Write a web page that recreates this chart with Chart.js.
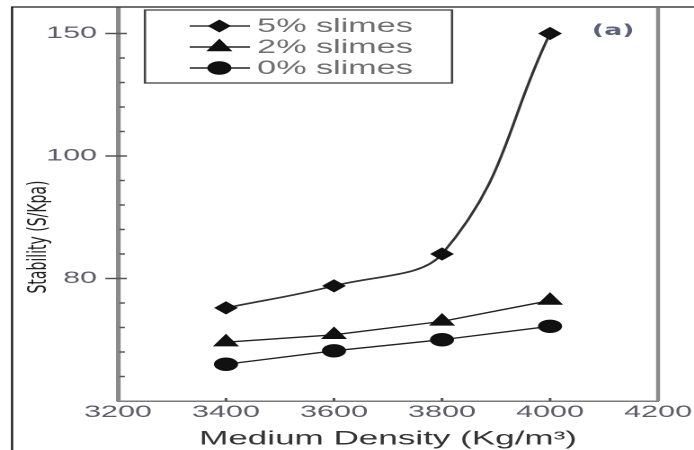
<!DOCTYPE html>
<html>
<head>
<meta charset="utf-8">
<script src="https://cdn.jsdelivr.net/npm/chart.js@4.4.1/dist/chart.umd.min.js"></script>
<style>
  html, body { margin: 0; padding: 0; background: #fff; overflow: hidden; }
  /* the source figure is stretched sideways, so the chart is drawn narrow and scaled */
  #wrap { width: 386px; height: 450px; transform: scaleX(1.798); transform-origin: 0 0; }
  canvas { display: block; }
</style>
</head>
<body>
<div id="wrap"><canvas id="chart" width="386" height="450"></canvas></div>
<script>
const densities = [3400, 3600, 3800, 4000]
const slimes5 = [38, 47, 60, 150]
const slimes2 = [24, 27, 32.5, 41]
const slimes0 = [15, 20.5, 25, 30.5]
const seriesLabels = ['5% slimes', '2% slimes', '0% slimes']
const xTicks = [3200, 3400, 3600, 3800, 4000, 4200]
const yTickValues = [50, 100, 150]
const yTickLabels = ['80', '100', '150']

const points = (values) => values.map((y, i) => ({ x: densities[i], y }))

function marker(ctx, style, x, y, r) {
  if (Chart.helpers && Chart.helpers.drawPoint) {
    Chart.helpers.drawPoint(ctx, { pointStyle: style, radius: r, rotation: 0, borderWidth: 1 }, x, y)
    return
  }
  ctx.beginPath()
  ctx.arc(x, y, r, 0, Math.PI * 2)
  ctx.fill()
}

const decorations = {
  id: 'decorations',
  beforeDraw(chart) {
    const ctx = chart.ctx
    ctx.save()
    ctx.strokeStyle = '#1a1a1a'
    ctx.lineWidth = 1.2
    ctx.beginPath()
    ctx.moveTo(6.7, 450)
    ctx.lineTo(6.7, 7)
    ctx.lineTo(386, 7)
    ctx.stroke()
    ctx.restore()
  },
  afterDraw(chart) {
    const ctx = chart.ctx
    const { chartArea } = chart
    const xs = chart.scales.x
    const ys = chart.scales.y
    ctx.save()

    // right edge of the plot
    ctx.strokeStyle = '#8a8a8a'
    ctx.lineWidth = 2.2
    ctx.beginPath()
    ctx.moveTo(chartArea.right, 8)
    ctx.lineTo(chartArea.right, chartArea.bottom)
    ctx.stroke()

    // y tick marks
    ctx.strokeStyle = '#555'
    ctx.lineWidth = 1.5
    ys.ticks.forEach((t) => {
      if (t.value <= 0 || t.value > 150) return
      const py = ys.getPixelForValue(t.value)
      const major = yTickValues.includes(t.value)
      ctx.beginPath()
      ctx.moveTo(major ? chartArea.left - 7 : chartArea.left + 0.8, py)
      ctx.lineTo(major ? chartArea.left + 5 : chartArea.left + 3.8, py)
      ctx.stroke()
    })
    // x tick marks
    xTicks.slice(1, -1).forEach((v) => {
      const px = xs.getPixelForValue(v)
      ctx.beginPath()
      ctx.moveTo(px, chartArea.bottom)
      ctx.lineTo(px, chartArea.bottom - 3)
      ctx.stroke()
    })

    // legend box
    ctx.strokeStyle = '#444'
    ctx.lineWidth = 1.3
    ctx.strokeRect(80.6, 10, 170.8, 73)
    const rows = [26, 47, 68]
    chart.data.datasets.forEach((ds, i) => {
      const y = rows[i]
      ctx.strokeStyle = ds.borderColor
      ctx.lineWidth = 1.4
      ctx.beginPath()
      ctx.moveTo(105.5, y)
      ctx.lineTo(139, y)
      ctx.stroke()
      ctx.fillStyle = ds.pointBackgroundColor
      ctx.strokeStyle = ds.pointBorderColor
      marker(ctx, ds.pointStyle, 122, y, ds.pointRadius)
      ctx.fillStyle = '#6e6e6e'
      ctx.font = '19px "Liberation Sans", Arial, sans-serif'
      ctx.textAlign = 'left'
      ctx.textBaseline = 'middle'
      ctx.fillText(ds.label, 143, y + 1)
    })

    // panel tag
    ctx.fillStyle = '#5a6278'
    ctx.font = 'bold 15px "DejaVu Sans", sans-serif'
    ctx.textAlign = 'center'
    ctx.textBaseline = 'middle'
    ctx.fillText('(a)', 341, 31)

    // y axis title
    ctx.translate(21.7, 237)
    ctx.rotate(-Math.PI / 2)
    ctx.fillStyle = '#222'
    ctx.font = '14px "DejaVu Sans", sans-serif'
    ctx.fillText('Stability (S/Kpa)', 0, 0)
    ctx.restore()
  },
}

const tickFont = { family: '"Liberation Sans", Arial, sans-serif', size: 17 }

new Chart(document.getElementById('chart'), {
  type: 'scatter',
  data: {
    datasets: [
      {
        label: seriesLabels[0],
        data: points(slimes5),
        showLine: true,
        tension: 0.4,
        borderColor: '#333',
        borderWidth: 1.6,
        pointStyle: 'rectRot',
        pointRadius: 5.5,
        pointBackgroundColor: '#111',
        pointBorderColor: '#111',
      },
      {
        label: seriesLabels[1],
        data: points(slimes2),
        showLine: true,
        borderColor: '#222',
        borderWidth: 1.4,
        pointStyle: 'triangle',
        pointRadius: 7,
        pointBackgroundColor: '#111',
        pointBorderColor: '#111',
      },
      {
        label: seriesLabels[2],
        data: points(slimes0),
        showLine: true,
        borderColor: '#222',
        borderWidth: 1.4,
        pointStyle: 'circle',
        pointRadius: 6,
        pointBackgroundColor: '#111',
        pointBorderColor: '#111',
      },
    ],
  },
  options: {
    responsive: false,
    devicePixelRatio: 2,
    animation: false,
    layout: { padding: { left: 0, right: 20, top: 9, bottom: 0 } },
    plugins: {
      legend: { display: false },
      tooltip: { enabled: false },
    },
    scales: {
      x: {
        type: 'linear',
        min: 3200,
        max: 4200,
        afterBuildTicks: (s) => { s.ticks = xTicks.map((v) => ({ value: v })) },
        afterFit: (s) => { s.height = 49 },
        grid: { display: false, drawTicks: false },
        border: { display: true, color: '#7a7a7a', width: 1.5 },
        ticks: {
          autoSkip: false,
          maxRotation: 0,
          padding: 1,
          color: '#5c5c68',
          font: tickFont,
          callback: (v) => String(v),
        },
        title: {
          display: true,
          text: 'Medium Density (Kg/m³)',
          color: '#333',
          font: { family: '"Liberation Sans", Arial, sans-serif', size: 19.5, lineHeight: 1.1 },
          padding: { top: 0, bottom: 0 },
        },
      },
      y: {
        min: 0,
        max: 160,
        afterFit: (s) => {
          s.width = 65.6
          s.paddingTop = 0
          s.paddingBottom = 0
        },
        grid: { display: false, drawTicks: false },
        border: { display: true, color: '#8a8a8a', width: 2.6 },
        ticks: {
          stepSize: 10,
          autoSkip: false,
          padding: 11.6,
          color: '#5c5c68',
          font: tickFont,
          callback: (v) => {
            const i = yTickValues.indexOf(v)
            return i >= 0 ? yTickLabels[i] : ''
          },
        },
      },
    },
  },
  plugins: [decorations],
})
</script>
</body>
</html>
